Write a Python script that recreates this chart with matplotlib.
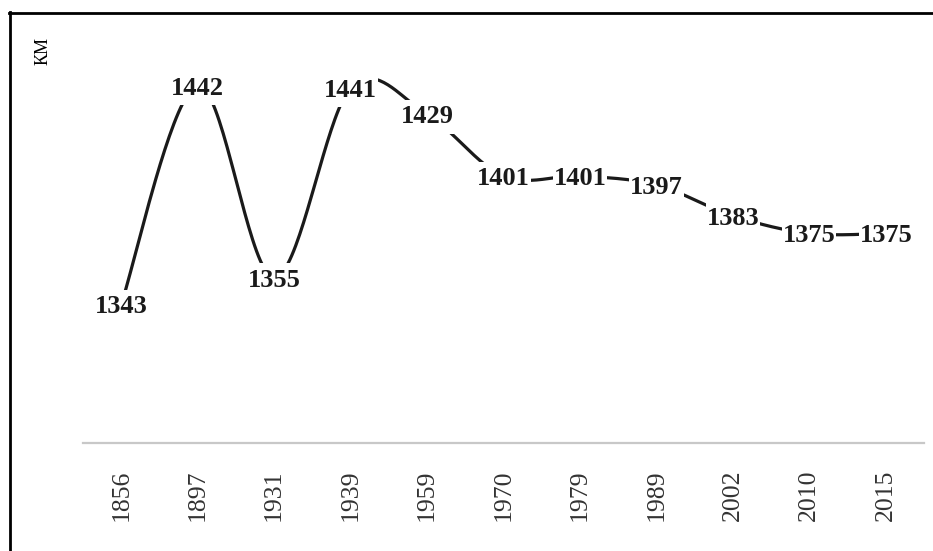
import numpy as np
import matplotlib
matplotlib.use("Agg")
import matplotlib.pyplot as plt
from matplotlib.lines import Line2D

# Length of the river by survey year
years = ['1856', '1897', '1931', '1939', '1959', '1970',
         '1979', '1989', '2002', '2010', '2015']
length_km = [1343, 1442, 1355, 1441, 1429, 1401,
             1401, 1397, 1383, 1375, 1375]
y_label = 'КМ'


def smooth_curve(xs, ys, n=40):
    # Excel-like smoothed line (Catmull-Rom as cubic Bezier)
    pts = np.column_stack([xs, ys]).astype(float)
    out = []
    for i in range(len(pts) - 1):
        p0 = pts[i - 1] if i > 0 else pts[i]
        p1 = pts[i]
        p2 = pts[i + 1]
        p3 = pts[i + 2] if i + 2 < len(pts) else pts[i + 1]
        c1 = p1 + (p2 - p0) / 6
        c2 = p2 - (p3 - p1) / 6
        t = np.linspace(0, 1, n)[:, None]
        seg = ((1 - t) ** 3 * p1 + 3 * (1 - t) ** 2 * t * c1
               + 3 * (1 - t) * t ** 2 * c2 + t ** 3 * p2)
        out.append(seg if i == 0 else seg[1:])
    out = np.vstack(out)
    return out[:, 0], out[:, 1]


W, H = 933, 551
fig = plt.figure(figsize=(W / 100, H / 100), dpi=100)
ax = fig.add_axes([83 / W, 1 - 443 / H, (924 - 83) / W, (443 - 46) / H])

x = np.arange(len(years))
sx, sy = smooth_curve(x, length_km)
ax.plot(sx, sy, color='#1a1a1a', linewidth=2.3, solid_capstyle='butt', zorder=2)

# white label boxes: tight left/right, roomy top/bottom
for xi, v in zip(x, length_km):
    ax.text(xi, v, str(v), ha='center', va='center_baseline',
            fontsize=19, fontweight='bold', family='Liberation Serif',
            color='#1a1a1a', zorder=3,
            bbox=dict(boxstyle='square,pad=0.03', mutation_aspect=7,
                      fc='white', ec='none'))

ax.set_xlim(-0.5, len(years) - 0.5)
ax.set_ylim(1280, 1460)
ax.set_xticks(x)
ax.set_xticklabels(years, rotation=90, fontsize=18.5,
                   family='Liberation Serif', color='#333333')
ax.tick_params(axis='x', length=0, pad=19)
ax.set_yticks([])
for side in ['left', 'right', 'top']:
    ax.spines[side].set_visible(False)
ax.spines['bottom'].set_color('#c8c8c8')
ax.spines['bottom'].set_linewidth(1.6)

fig.text(43 / W, 1 - 51 / H, y_label, rotation=90, ha='center', va='center',
         fontsize=13, family='Liberation Serif', color='black')

# outer chart frame (only left and top edges fall inside the image)
fig.add_artist(Line2D([9.5 / W, 9.5 / W], [0, 1 - 12 / H],
                      transform=fig.transFigure, color='black', linewidth=2))
fig.add_artist(Line2D([8.5 / W, 1], [1 - 13 / H, 1 - 13 / H],
                      transform=fig.transFigure, color='black', linewidth=2))

fig.savefig('out.png', dpi=100)
